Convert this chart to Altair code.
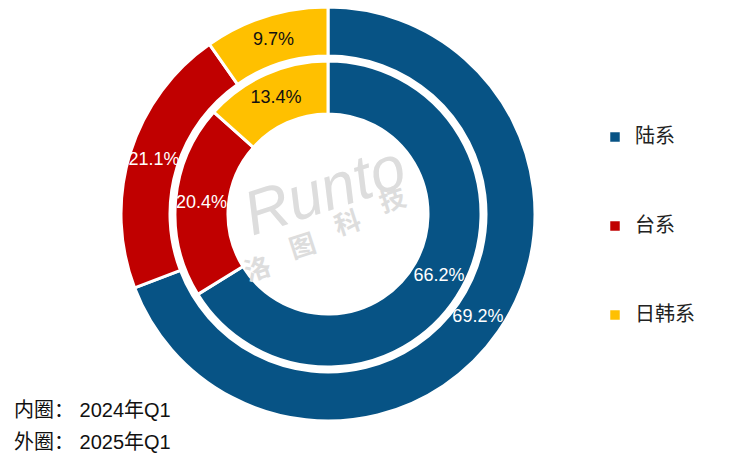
import altair as alt
import pandas as pd

categories = ["陆系", "台系", "日韩系"]
inner_2024 = [66.2, 20.4, 13.4]
outer_2025 = [69.2, 21.1, 9.7]
colors = ["#075385", "#c00000", "#ffc000"]
notes = ["内圈： 2024年Q1", "外圈： 2025年Q1"]
wm_word = "Runto"
wm_chars = ["洛", "图", "科", "技"]

rows = []
for i, c in enumerate(categories):
    rows.append({"ring": "inner", "cat": c, "value": inner_2024[i], "idx": i,
                 "label": f"{inner_2024[i]:.1f}%"})
    rows.append({"ring": "outer", "cat": c, "value": outer_2025[i], "idx": i,
                 "label": f"{outer_2025[i]:.1f}%"})
df = pd.DataFrame(rows)

FONT = "Liberation Sans, Noto Sans CJK SC"
CX, CY = 320, 206

base = alt.Chart(df).encode(
    theta=alt.Theta("value:Q", stack=True),
    order=alt.Order("idx:O"),
    x=alt.value(CX),
    y=alt.value(CY),
)

color = alt.Color(
    "cat:N",
    scale=alt.Scale(domain=categories, range=colors),
    sort=categories,
    legend=alt.Legend(
        title=None, orient="none", legendX=597, legendY=119,
        symbolType="square", symbolSize=90, symbolStrokeWidth=0,
        labelFont=FONT, labelFontSize=20, labelColor="#222222",
        rowPadding=69, labelOffset=10,
    ),
)

outer_arc = base.transform_filter(alt.datum.ring == "outer").mark_arc(
    radius=207, radius2=158, stroke="white", strokeWidth=3
).encode(color=color)

inner_arc = base.transform_filter(alt.datum.ring == "inner").mark_arc(
    radius=153, radius2=100, stroke="white", strokeWidth=3
).encode(color=color)

text_color = alt.condition(alt.datum.cat == "日韩系", alt.value("#111111"), alt.value("white"))

outer_text = base.transform_filter(alt.datum.ring == "outer").mark_text(
    radius=182, font=FONT, fontSize=18
).encode(text="label:N", color=text_color)

inner_text = base.transform_filter(alt.datum.ring == "inner").mark_text(
    radius=127, font=FONT, fontSize=18
).encode(text="label:N", color=text_color)

notes_df = pd.DataFrame({"t": notes, "row": [0, 1]})
note_text = alt.Chart(notes_df).mark_text(
    align="left", baseline="middle", font=FONT, fontSize=20, color="#111111"
).encode(
    text="t:N",
    x=alt.value(6),
    y=alt.Y("row:Q", axis=None, scale=alt.Scale(domain=[0, 1], range=[403, 435])),
)

wm1 = alt.Chart(pd.DataFrame({"t": [wm_word]})).mark_text(
    font="Liberation Sans Narrow, Liberation Sans", fontStyle="italic", fontSize=62,
    color="#dddddd", angle=342
).encode(text="t:N", x=alt.value(CX - 3), y=alt.value(CY - 22))

wm_df = pd.DataFrame({"t": wm_chars, "k": [0, 1, 2, 3]})
wm2 = alt.Chart(wm_df).mark_text(
    font="Noto Sans CJK SC", fontSize=26, fontWeight="bold", color="#dddddd", angle=342
).encode(
    text="t:N",
    x=alt.X("k:Q", axis=None, scale=alt.Scale(domain=[0, 3], range=[CX - 70, CX + 65])),
    y=alt.Y("k:Q", axis=None, scale=alt.Scale(domain=[0, 3], range=[CY + 56, CY - 13])),
)

chart = alt.layer(outer_arc, inner_arc, outer_text, inner_text, wm1, wm2, note_text).properties(
    width=720, height=446, padding=0, autosize=alt.AutoSizeParams(type="none")
).resolve_scale(x="independent", y="independent").configure_view(stroke=None)

chart.save("out.html", embed_options={"renderer": "svg", "actions": False})
